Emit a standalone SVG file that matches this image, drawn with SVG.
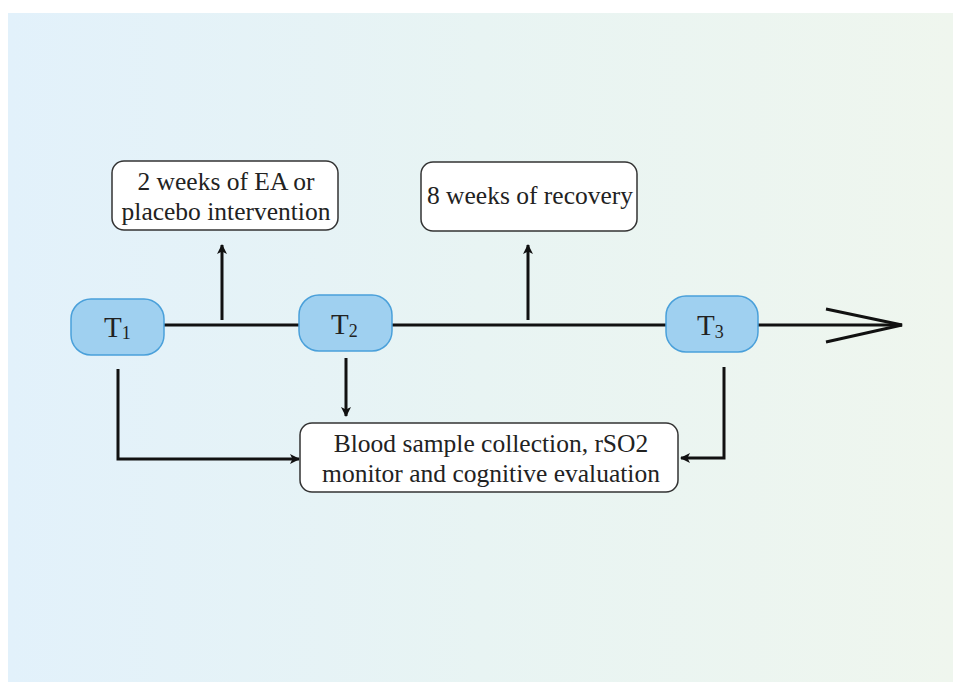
<svg xmlns="http://www.w3.org/2000/svg" width="953" height="682" viewBox="0 0 953 682">
<defs>
<linearGradient id="bg" x1="0" y1="0" x2="1" y2="0">
<stop offset="0" stop-color="#e2f1fb"/>
<stop offset="0.5" stop-color="#e8f4f3"/>
<stop offset="1" stop-color="#eff6ee"/>
</linearGradient>
<marker id="ah" markerWidth="12" markerHeight="12" refX="9" refY="6" orient="auto" markerUnits="userSpaceOnUse">
<path d="M0,1 L10,6 L0,11 L2.5,6 Z" fill="#111"/>
</marker>
</defs>
<style>
.t{fill:#9fd0f0;stroke:#4aa0da;stroke-width:1.5}
.b{fill:#fff;stroke:#333;stroke-width:1.5}
.c{fill:none;stroke:#111;stroke-width:3}
.lbl{font-family:'Liberation Serif',serif;font-size:25.5px;fill:#222;text-anchor:middle}
.tl{font-family:'Liberation Serif',serif;font-size:29px;fill:#222}
.sub{font-size:18px}
</style>
<rect x="8" y="13" width="945" height="669" fill="url(#bg)"/>
<g id="connectors">
<line class="c" x1="163" y1="325" x2="300" y2="325"/>
<line class="c" x1="391" y1="325" x2="666" y2="325"/>
<line class="c" x1="757" y1="325" x2="902" y2="325"/>
<path class="c" d="M826,309 L902,325 L826,342" stroke-linejoin="miter"/>
<line class="c" x1="222" y1="320" x2="222" y2="245" marker-end="url(#ah)"/>
<line class="c" x1="528" y1="320" x2="528" y2="245" marker-end="url(#ah)"/>
<polyline class="c" points="118,369 118,459 299,459" marker-end="url(#ah)"/>
<line class="c" x1="346" y1="358" x2="346" y2="416" marker-end="url(#ah)"/>
<polyline class="c" points="724,367 724,458 681,458" marker-end="url(#ah)"/>
</g>
<g id="T1">
<rect class="t" x="71" y="299" width="93" height="56" rx="20"/>
<text class="tl" x="104" y="337">T<tspan class="sub" dy="2">1</tspan></text>
</g>
<g id="T2">
<rect class="t" x="299" y="295" width="93" height="56" rx="20"/>
<text class="tl" x="331" y="334">T<tspan class="sub" dy="3">2</tspan></text>
</g>
<g id="T3">
<rect class="t" x="666" y="296" width="92" height="56" rx="20"/>
<text class="tl" x="697" y="335">T<tspan class="sub" dy="3">3</tspan></text>
</g>
<g id="intervention">
<rect class="b" x="112" y="161" width="226" height="69" rx="12"/>
<text class="lbl" x="226" y="190">2 weeks of EA or</text>
<text class="lbl" x="226" y="220">placebo intervention</text>
</g>
<g id="recovery">
<rect class="b" x="421" y="162" width="216" height="69" rx="12"/>
<text class="lbl" x="530" y="204">8 weeks of recovery</text>
</g>
<g id="evaluation">
<rect class="b" x="300" y="423" width="378" height="69" rx="12"/>
<text class="lbl" x="491" y="452">Blood sample collection, rSO2</text>
<text class="lbl" x="491" y="482">monitor and cognitive evaluation</text>
</g>
</svg>
